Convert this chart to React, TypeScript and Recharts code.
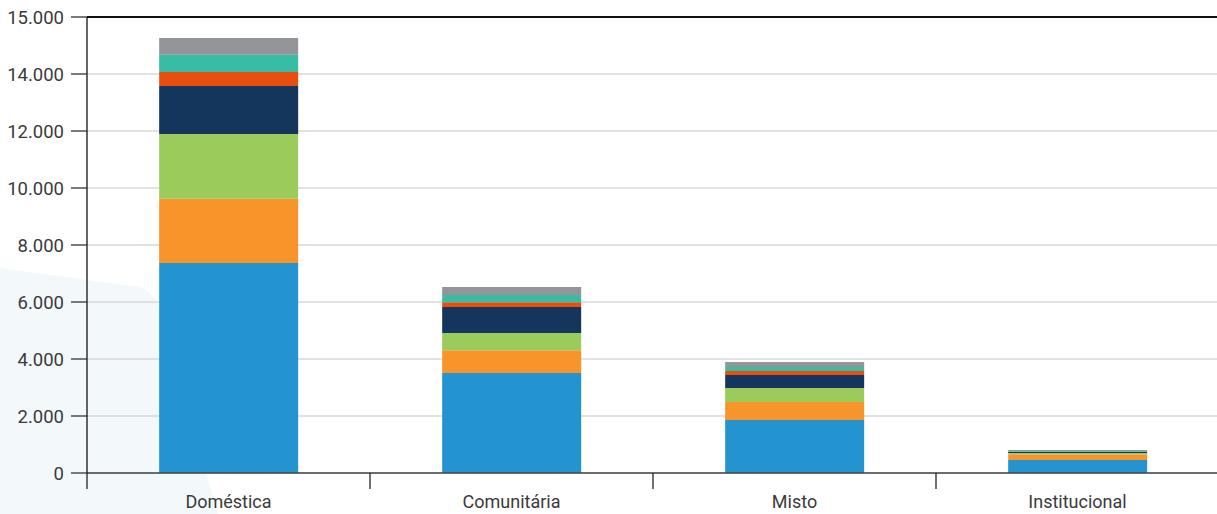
import React from "react";
import { BarChart, Bar, XAxis, YAxis, CartesianGrid, ReferenceLine } from "recharts";

const categories = ["Doméstica", "Comunitária", "Misto", "Institucional"];
const seriesBlue = [7370, 3510, 1860, 456];
const seriesOrange = [2255, 795, 630, 200];
const seriesGreen = [2270, 607, 492, 47];
const seriesNavy = [1684, 912, 456, 35];
const seriesRed = [492, 165, 140, 10];
const seriesTeal = [607, 256, 141, 24];
const seriesGray = [586, 281, 175, 35];
const yTicks = [0, 2000, 4000, 6000, 8000, 10000, 12000, 14000, 16000];
const yTickLabels = ["0", "2.000", "4.000", "6.000", "8.000", "10.000", "12.000", "14.000", "15.000"];

const seriesList = [
  { key: "s1", values: seriesBlue, color: "#2394cf" },
  { key: "s2", values: seriesOrange, color: "#f7942a" },
  { key: "s3", values: seriesGreen, color: "#9bcb5a" },
  { key: "s4", values: seriesNavy, color: "#14365c" },
  { key: "s5", values: seriesRed, color: "#e84e0f" },
  { key: "s6", values: seriesTeal, color: "#38bda5" },
  { key: "s7", values: seriesGray, color: "#939598" },
];

const data = categories.map((name, i) => {
  const row: Record<string, any> = { name };
  seriesList.forEach((s) => (row[s.key] = s.values[i]));
  return row;
});

const FONT = "Roboto, 'Noto Sans', sans-serif";

const CategoryTick = (props: any) => {
  const { x, y, payload, index, visibleTicksCount } = props;
  const off = payload && payload.offset ? payload.offset : 0;
  const isLast = index === (visibleTicksCount ?? categories.length) - 1;
  return (
    <g>
      <line x1={x - off} x2={x - off} y1={y - 22} y2={y - 6} stroke="#222" strokeWidth={1.3} />
      {isLast && <line x1={x + off} x2={x + off} y1={y - 22} y2={y - 6} stroke="#222" strokeWidth={1.3} />}
      <text x={x} y={y} dy="0.71em" textAnchor="middle" fill="#3a3a3a" fontSize={18} fontFamily={FONT}>
        {payload.value}
      </text>
    </g>
  );
};

export default function App() {
  return (
    <div style={{ position: "absolute", left: 0, top: 0, width: 1217, height: 514, overflow: "hidden", background: "#fff" }}>
      <svg width={1217} height={514} style={{ position: "absolute", left: 0, top: 0 }}>
        <path d="M0,268 L138,287 Q152,290 158,304 L218,514 L0,514 Z" fill="#f3f8fb" />
      </svg>
      <div style={{ position: "absolute", left: 0, top: 0 }}>
        <BarChart
          width={1221}
          height={514}
          data={data}
          margin={{ top: 17, right: 2, bottom: 0, left: 0 }}
          barCategoryGap="25.5%"
        >
          <CartesianGrid vertical={false} stroke="#d9d9d9" strokeWidth={1.3} />
          <XAxis
            dataKey="name"
            height={41}
            tickLine={{ stroke: "none" }}
            tickSize={6}
            tickMargin={16}
            axisLine={{ stroke: "#444", strokeWidth: 1.5 }}
            tick={<CategoryTick />}
            interval={0}
          />
          <YAxis
            width={87}
            domain={[0, 16000]}
            ticks={yTicks}
            interval={0}
            tickSize={16}
            tickMargin={7}
            tickFormatter={(v: number) => yTickLabels[yTicks.indexOf(v)] ?? String(v)}
            tickLine={{ stroke: "#333", strokeWidth: 1.3 }}
            axisLine={{ stroke: "#111", strokeWidth: 1.3 }}
            tick={{ fill: "#3a3a3a", fontSize: 18.5, fontFamily: FONT }}
          />
          {seriesList.map((s) => (
            <Bar key={s.key} dataKey={s.key} stackId="a" fill={s.color} isAnimationActive={false} />
          ))}
          <ReferenceLine y={16000} stroke="#111" strokeWidth={2} />
        </BarChart>
      </div>
    </div>
  );
}
